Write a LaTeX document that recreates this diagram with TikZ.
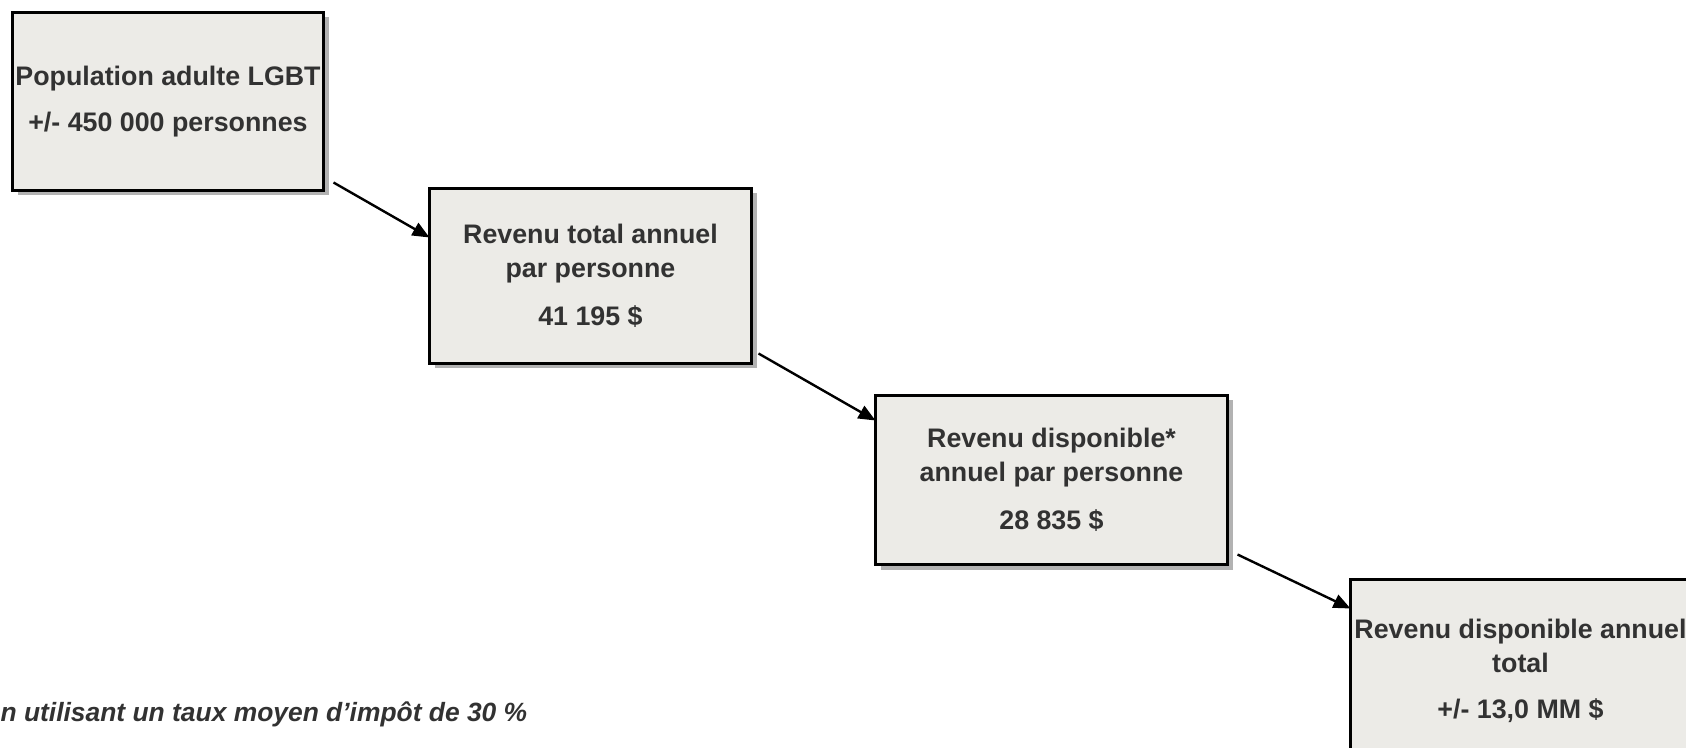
\documentclass[tikz,border=0pt]{standalone}
\usepackage{fontspec}
\setmainfont{Liberation Sans}
\usepackage{tikz}
\usetikzlibrary{arrows.meta,positioning,shadows}
\definecolor{boxfill}{RGB}{236,235,231}
\definecolor{boxtext}{RGB}{50,50,50}

\begin{document}
\begin{tikzpicture}[x=0.5pt, y=-0.5pt, >={Triangle[length=8.5pt,width=7pt]}, semithick]
\tikzstyle{etape}=[draw=black,line width=1.1pt,fill=boxfill,text=boxtext,align=center,inner sep=0pt,outer sep=0pt,
  font=\fontsize{13.4}{17}\selectfont\bfseries,
  drop shadow={shadow xshift=2.5pt,shadow yshift=-2.5pt,fill=black!30,opacity=1}]
\tikzstyle{fleche}=[->,line width=1.2pt]
\useasboundingbox (0,0) rectangle (1686,748);
\node[etape,minimum width=155.5pt,minimum height=89pt] (pop) at (168,101.5)
  {Population adulte LGBT\\[6pt]+/- 450 000 personnes};
\node[etape,minimum width=161pt,minimum height=87.5pt] (rev)[below right=-1pt and 53pt of pop]
  {Revenu total annuel\\par personne\\[7pt]41 195 \$};
\node[etape,minimum width=176pt,minimum height=84.5pt] (dispo)[below right=16pt and 62pt of rev]
  {Revenu disponible*\\annuel par personne\\[7pt]28 835 \$};
\node[etape,minimum width=170pt,minimum height=91pt] (total)[below right=7.5pt and 61.5pt of dispo]
  {Revenu disponible annuel\\total\\[6pt]+/- 13,0 MM \$};
\node[anchor=base west,inner sep=0pt,text=boxtext,font=\fontsize{13.2}{15}\selectfont\bfseries\itshape] (note) at (0,721)
  {n utilisant un taux moyen d’impôt de 30 \%};
\draw[fleche] ([shift={(5pt,4pt)}]pop.south east) -- ([yshift=-24.5pt]rev.north west);
\draw[fleche] ([shift={(3.5pt,5pt)}]rev.south east) -- ([yshift=-12.5pt]dispo.north west);
\draw[fleche] ([shift={(5pt,5pt)}]dispo.south east) -- ([yshift=-14.5pt]total.north west);
\end{tikzpicture}
\end{document}
